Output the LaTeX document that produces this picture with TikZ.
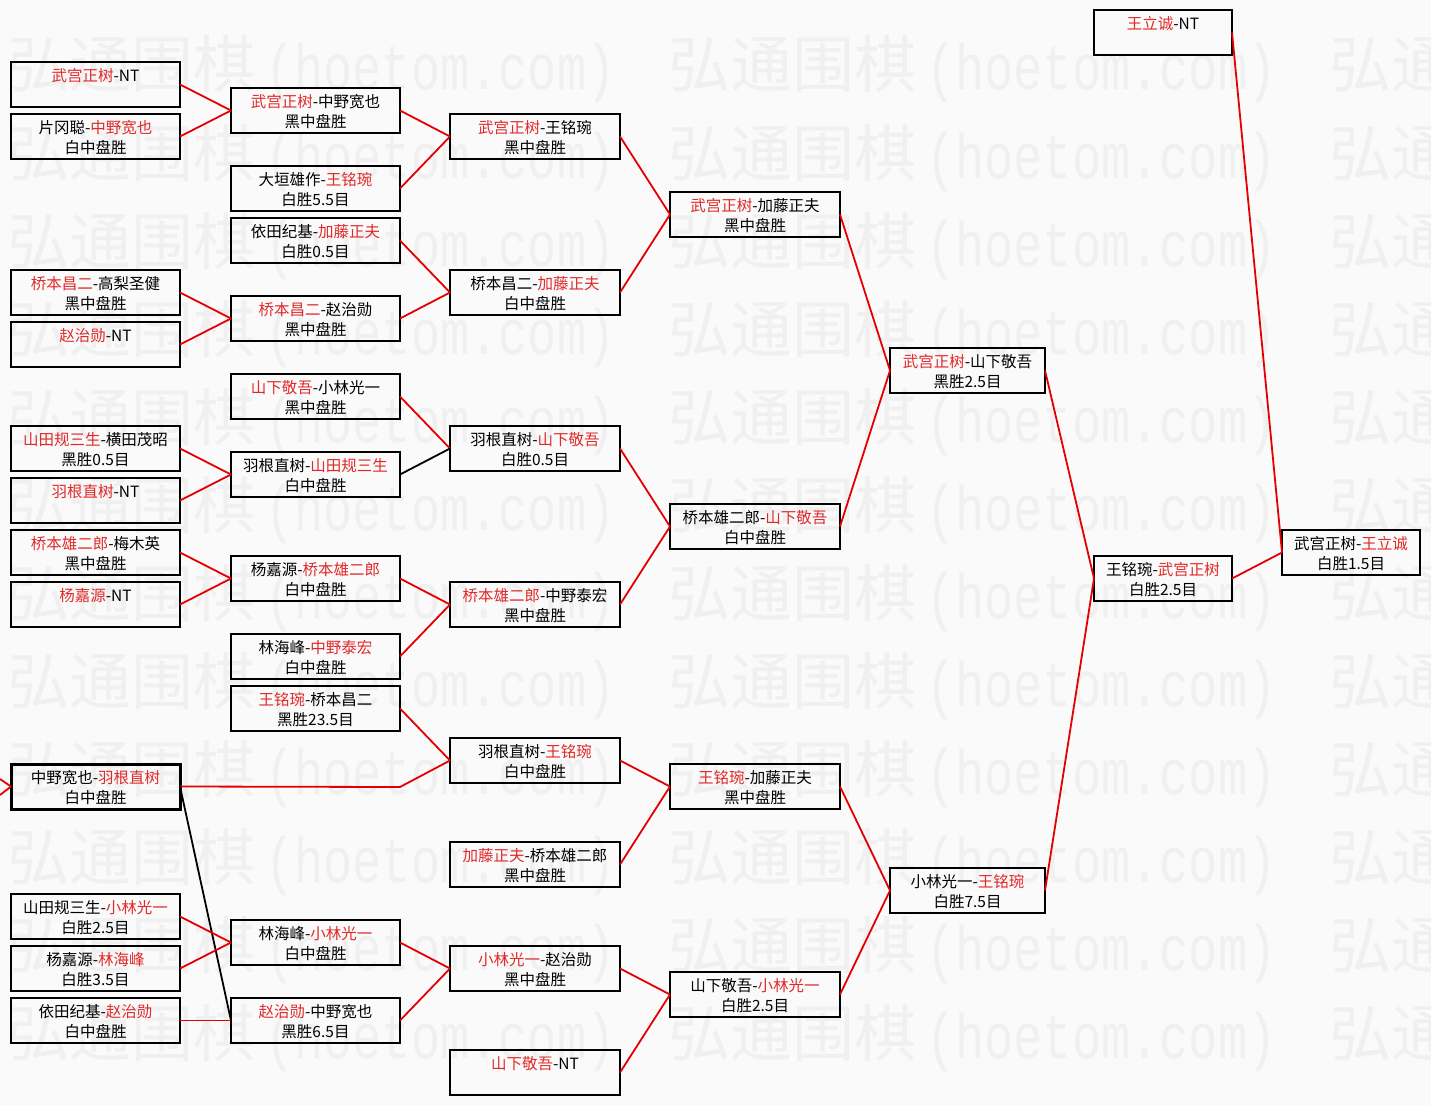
\documentclass[tikz,border=0pt]{standalone}
\usepackage{fontspec}
\setmainfont{Liberation Serif}
\newfontfamily\cjk{Noto Sans CJK SC}
\newfontfamily\wmmono{Liberation Mono}
\definecolor{wred}{HTML}{E02A2A}
\definecolor{lred}{HTML}{E40000}
\definecolor{bgc}{HTML}{FAFAFA}
\definecolor{wmc}{HTML}{F0F0F0}
\newcommand\R[1]{\textcolor{wred}{#1}}
\tikzset{
  gbox/.style={draw=black, line width=2pt, rectangle, inner sep=0pt, outer sep=0pt, minimum height=45pt, anchor=north west},
  gtxt/.style={font=\cjk\fontsize{15.5}{18}\selectfont, inner sep=0pt, text=black},
  conn/.style={draw=lred, line width=1.8pt},
  connb/.style={draw=black, line width=1.8pt},
  wmtxt/.style={font=\cjk\fontsize{62}{62}\selectfont, text=wmc, inner sep=0pt, anchor=base west},
  wmlat/.style={font=\wmmono\fontsize{64}{64}\selectfont, text=wmc, inner sep=0pt, anchor=base west}
}
\newcommand\gb[7][]{%
  \node[gbox, minimum width=#5pt, #1] (#2) at (#3,#4) {};
  \node[gtxt] (#2-l1) at ([yshift=-14pt]#2.north) {#6};
  \node[gtxt] (#2-l2) at ([yshift=-34pt]#2.north) {#7};
}
\begin{document}
\begin{tikzpicture}[x=1pt,y=-1pt]
\useasboundingbox (0,0) rectangle (1431,1105);
\fill[bgc] (0,0) rectangle (1431,1105);
% watermark
\begin{scope}
\clip (0,0) rectangle (1431,1105);
\foreach \k in {0,...,11} {
  \foreach \p [count=\i] in {7,668,1329} {
    \node[wmtxt] (wma-\k-\i) at (\p, 88+88*\k) {弘通围棋};
    \node[wmlat] (wmb-\k-\i) at (\p+258, 90+88*\k) {\scalebox{0.76}[1]{(hoetom.com)}};
  }
}
\end{scope}
% column 1
\gb{c1a}{11}{62}{169}{\R{武宫正树}-NT}{}
\gb{c1b}{11}{114}{169}{片冈聪-\R{中野宽也}}{白中盘胜}
\gb{c1c}{11}{270}{169}{\R{桥本昌二}-高梨圣健}{黑中盘胜}
\gb{c1d}{11}{322}{169}{\R{赵治勋}-NT}{}
\gb{c1e}{11}{426}{169}{\R{山田规三生}-横田茂昭}{黑胜0.5目}
\gb{c1f}{11}{478}{169}{\R{羽根直树}-NT}{}
\gb{c1g}{11}{530}{169}{\R{桥本雄二郎}-梅木英}{黑中盘胜}
\gb{c1h}{11}{582}{169}{\R{杨嘉源}-NT}{}
\gb[line width=3pt]{c1i}{11}{764}{169}{中野宽也-\R{羽根直树}}{白中盘胜}
\gb{c1j}{11}{894}{169}{山田规三生-\R{小林光一}}{白胜2.5目}
\gb{c1k}{11}{946}{169}{杨嘉源-\R{林海峰}}{白胜3.5目}
\gb{c1l}{11}{998}{169}{依田纪基-\R{赵治勋}}{白中盘胜}
% column 2
\gb{c2a}{231}{88}{169}{\R{武宫正树}-中野宽也}{黑中盘胜}
\gb{c2b}{231}{166}{169}{大垣雄作-\R{王铭琬}}{白胜5.5目}
\gb{c2c}{231}{218}{169}{依田纪基-\R{加藤正夫}}{白胜0.5目}
\gb{c2d}{231}{296}{169}{\R{桥本昌二}-赵治勋}{黑中盘胜}
\gb{c2e}{231}{374}{169}{\R{山下敬吾}-小林光一}{黑中盘胜}
\gb{c2f}{231}{452}{169}{羽根直树-\R{山田规三生}}{白中盘胜}
\gb{c2g}{231}{556}{169}{杨嘉源-\R{桥本雄二郎}}{白中盘胜}
\gb{c2h}{231}{634}{169}{林海峰-\R{中野泰宏}}{白中盘胜}
\gb{c2i}{231}{686}{169}{\R{王铭琬}-桥本昌二}{黑胜23.5目}
\gb{c2j}{231}{920}{169}{林海峰-\R{小林光一}}{白中盘胜}
\gb{c2k}{231}{998}{169}{\R{赵治勋}-中野宽也}{黑胜6.5目}
% column 3
\gb{c3a}{450}{114}{170}{\R{武宫正树}-王铭琬}{黑中盘胜}
\gb{c3b}{450}{270}{170}{桥本昌二-\R{加藤正夫}}{白中盘胜}
\gb{c3c}{450}{426}{170}{羽根直树-\R{山下敬吾}}{白胜0.5目}
\gb{c3d}{450}{582}{170}{\R{桥本雄二郎}-中野泰宏}{黑中盘胜}
\gb{c3e}{450}{738}{170}{羽根直树-\R{王铭琬}}{白中盘胜}
\gb{c3f}{450}{842}{170}{\R{加藤正夫}-桥本雄二郎}{黑中盘胜}
\gb{c3g}{450}{946}{170}{\R{小林光一}-赵治勋}{黑中盘胜}
\gb{c3h}{450}{1050}{170}{\R{山下敬吾}-NT}{}
% column 4
\gb{c4a}{670}{192}{170}{\R{武宫正树}-加藤正夫}{黑中盘胜}
\gb{c4b}{670}{504}{170}{桥本雄二郎-\R{山下敬吾}}{白中盘胜}
\gb{c4c}{670}{764}{170}{\R{王铭琬}-加藤正夫}{黑中盘胜}
\gb{c4d}{670}{972}{170}{山下敬吾-\R{小林光一}}{白胜2.5目}
% column 5
\gb{c5a}{890}{348}{155}{\R{武宫正树}-山下敬吾}{黑胜2.5目}
\gb{c5b}{890}{868}{155}{小林光一-\R{王铭琬}}{白胜7.5目}
% column 6
\gb{c6a}{1094}{10}{138}{\R{王立诚}-NT}{}
\gb{c6b}{1094}{556}{138}{王铭琬-\R{武宫正树}}{白胜2.5目}
% column 7
\gb{c7}{1282}{530}{138}{武宫正树-\R{王立诚}}{白胜1.5目}
% free ends
\coordinate (offA) at (0,779);
\coordinate (offB) at (0,795);
\coordinate (bend) at (400,787);
% connectors col1 -> col2
\draw[conn] (c1a.east) -- (c2a.west);
\draw[conn] (c1b.east) -- (c2a.west);
\draw[conn] (c1c.east) -- (c2d.west);
\draw[conn] (c1d.east) -- (c2d.west);
\draw[conn] (c1e.east) -- (c2f.west);
\draw[conn] (c1f.east) -- (c2f.west);
\draw[conn] (c1g.east) -- (c2g.west);
\draw[conn] (c1h.east) -- (c2g.west);
\draw[conn] (offA) -- (c1i.west);
\draw[conn] (offB) -- (c1i.west);
\draw[conn] (c1i.east) -- (bend) -- (c3e.west);
\draw[connb] (c1i.east) -- (c2k.west);
\draw[conn] (c1j.east) -- (c2j.west);
\draw[conn] (c1k.east) -- (c2j.west);
\draw[conn] (c1l.east) -- (c2k.west);
% col2 -> col3
\draw[conn] (c2a.east) -- (c3a.west);
\draw[conn] (c2b.east) -- (c3a.west);
\draw[conn] (c2c.east) -- (c3b.west);
\draw[conn] (c2d.east) -- (c3b.west);
\draw[conn] (c2e.east) -- (c3c.west);
\draw[connb] (c2f.east) -- (c3c.west);
\draw[conn] (c2g.east) -- (c3d.west);
\draw[conn] (c2h.east) -- (c3d.west);
\draw[conn] (c2i.east) -- (c3e.west);
\draw[conn] (c2j.east) -- (c3g.west);
\draw[conn] (c2k.east) -- (c3g.west);
% col3 -> col4
\draw[conn] (c3a.east) -- (c4a.west);
\draw[conn] (c3b.east) -- (c4a.west);
\draw[conn] (c3c.east) -- (c4b.west);
\draw[conn] (c3d.east) -- (c4b.west);
\draw[conn] (c3e.east) -- (c4c.west);
\draw[conn] (c3f.east) -- (c4c.west);
\draw[conn] (c3g.east) -- (c4d.west);
\draw[conn] (c3h.east) -- (c4d.west);
% col4 -> col5
\draw[conn] (c4a.east) -- (c5a.west);
\draw[conn] (c4b.east) -- (c5a.west);
\draw[conn] (c4c.east) -- (c5b.west);
\draw[conn] (c4d.east) -- (c5b.west);
% col5 -> col6
\draw[conn] (c5a.east) -- (c6b.west);
\draw[conn] (c5b.east) -- (c6b.west);
% col6 -> col7
\draw[conn] (c6a.east) -- (c7.west);
\draw[conn] (c6b.east) -- (c7.west);
\end{tikzpicture}
\end{document}
